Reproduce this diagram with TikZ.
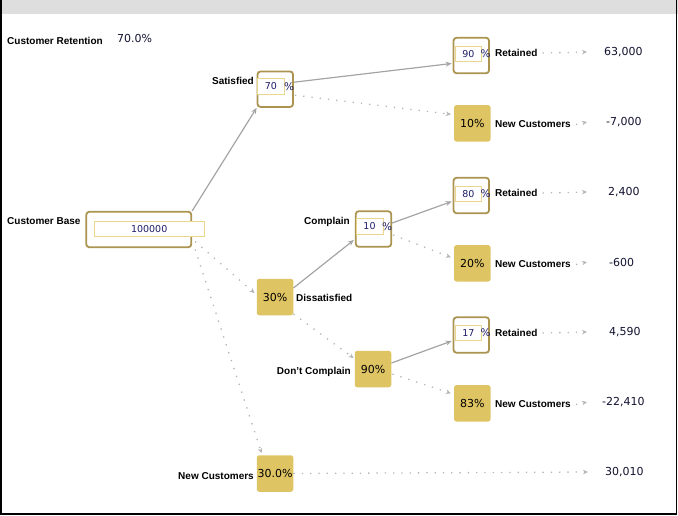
\documentclass[tikz,border=0pt]{standalone}
\usepackage{fontspec}
\setmainfont{Liberation Sans}
\newfontfamily\valfont{DejaVu Sans}
\usetikzlibrary{arrows.meta,calc}
\definecolor{goldline}{HTML}{AA9450}
\definecolor{goldfill}{HTML}{DFC463}
\definecolor{inborder}{HTML}{EAD68C}
\definecolor{linegray}{HTML}{A4A4A4}
\definecolor{dotgray}{HTML}{B4B4B4}
\definecolor{valcol}{HTML}{101030}
\definecolor{numcol}{HTML}{1C1C66}
\definecolor{barcol}{HTML}{DEDEDE}
\tikzset{
  outbox/.style={draw=goldline, line width=1.8pt, rounded corners=3pt, fill=white, minimum width=35.5pt, minimum height=35.5pt, inner sep=0pt},
  fillbox/.style={fill=goldfill, rounded corners=2.5pt, minimum width=36.5pt, minimum height=36.5pt, inner sep=0pt, font=\valfont\fontsize{11}{12}\selectfont, text=black},
  inbox/.style={draw=inborder, line width=0.9pt, fill=white, minimum width=26pt, minimum height=15pt, inner sep=0pt, font=\valfont\fontsize{9.5}{10}\selectfont, text=numcol},
  pct/.style={font=\valfont\fontsize{10.5}{11}\selectfont, text=numcol, inner sep=0pt},
  lbl/.style={font=\bfseries\fontsize{10}{11}\selectfont, inner sep=0pt, text=black},
  val/.style={font=\valfont\fontsize{11}{12}\selectfont, inner sep=0pt, text=valcol},
  solidcon/.style={draw=linegray, line width=1.2pt, -{Stealth[length=6pt,width=5pt]}},
  dotcon/.style={draw=dotgray, line width=1.3pt, dash pattern=on 1.3pt off 7pt, -{Stealth[length=5pt,width=4.5pt]}}
}
\begin{document}
\begin{tikzpicture}[x=1pt,y=-1pt]
\useasboundingbox (0,0) rectangle (678,515);
% frame
\fill[barcol] (0,0) rectangle (678,13.5);
\draw[black, line width=1.5pt] (0.75,0) -- (0.75,514) -- (676.25,514) -- (676.25,0);

% header
\node[lbl, anchor=west] (crl) at (7,41) {Customer Retention};
\node[val, anchor=west] (crv) at (117,38) {70.0\%};

% customer base
\node[lbl, anchor=west] (cbl) at (7,221) {Customer Base};
\node[outbox, minimum width=105pt, minimum height=35.5pt] (cb) at (138.8,229.5) {};
\node[inbox, minimum width=110pt, minimum height=14.5pt] (cbi) at (149.2,228.8) {100000};

% satisfied
\node[lbl, anchor=east] (satl) at (254,81) {Satisfied};
\node[outbox] (sat) at (275.3,89.2) {};
\node[inbox, minimum width=27pt, minimum height=16pt] (sati) at (270.8,86.3) {70};
\node[pct] (satp) at (289,86.5) {\%};

% retained 1
\node[outbox] (r1) at (471.3,55.5) {};
\node[inbox] (r1i) at (468.3,53.8) {90};
\node[pct] (r1p) at (485.7,53.5) {\%};
\node[lbl, anchor=west] (r1l) at (495,53) {Retained};
\node[val, anchor=west] (r1v) at (604,52) {63,000};

% new customers 1
\node[fillbox] (n1) at (472.3,123.3) {10\%};
\node[lbl, anchor=west] (n1l) at (495,124.5) {New Customers};
\node[val, anchor=west] (n1v) at (606,122) {-7,000};

% dissatisfied
\node[fillbox] (dis) at (275,297) {30\%};
\node[lbl, anchor=west] (disl) at (296,297.5) {Dissatisfied};

% complain
\node[lbl, anchor=east] (coml) at (350,222) {Complain};
\node[outbox] (com) at (373.5,229) {};
\node[inbox, minimum width=27pt, minimum height=16pt] (comi) at (369.5,226.5) {10};
\node[pct] (comp) at (387,226.5) {\%};

% retained 2
\node[outbox] (r2) at (471.3,195.5) {};
\node[inbox] (r2i) at (468.3,193.8) {80};
\node[pct] (r2p) at (485.7,193.5) {\%};
\node[lbl, anchor=west] (r2l) at (495,193) {Retained};
\node[val, anchor=west] (r2v) at (608,192) {2,400};

% new customers 2
\node[fillbox] (n2) at (472.3,263.3) {20\%};
\node[lbl, anchor=west] (n2l) at (495,264.5) {New Customers};
\node[val, anchor=west] (n2v) at (609,262) {-600};

% don't complain
\node[lbl, anchor=east] (dcl) at (351,372) {Don't Complain};
\node[fillbox] (dc) at (373,369) {90\%};

% retained 3
\node[outbox] (r3) at (471.3,335) {};
\node[inbox] (r3i) at (468.3,333.3) {17};
\node[pct] (r3p) at (485.7,333) {\%};
\node[lbl, anchor=west] (r3l) at (495,333) {Retained};
\node[val, anchor=west] (r3v) at (609,332) {4,590};

% new customers 3
\node[fillbox] (n3) at (472.3,403.3) {83\%};
\node[lbl, anchor=west] (n3l) at (495,404.5) {New Customers};
\node[val, anchor=west] (n3v) at (602,402) {-22,410};

% new customers bottom
\node[lbl, anchor=east] (nbl) at (254,476) {New Customers};
\node[fillbox] (nb) at (275,473.5) {30.0\%};
\node[val, anchor=west] (nbv) at (605,472) {30,010};

% connectors
\draw[solidcon] (cb.north east) -- (sat.south west);
\draw[dotcon] ($(cb.east)+(3,12)$) -- ($(dis.west)+(-2,-4)$);
\draw[dotcon] ($(cb.east)+(3,20)$) -- ($(nb.north west)+(5,-2)$);

\draw[solidcon] ($(sat.east)+(0,-7)$) -- ($(r1.west)+(-1,8)$);
\draw[dotcon] ($(sat.east)+(1,6)$) -- ($(n1.west)+(-3,-9)$);

\draw[solidcon] ($(dis.east)+(0,-9)$) -- ($(com.west)+(-1,11)$);
\draw[dotcon] ($(dis.east)+(0,17)$) -- ($(dc.west)+(-1,-11)$);

\draw[solidcon] ($(com.east)+(0,-6)$) -- ($(r2.west)+(-1,6)$);
\draw[dotcon] ($(com.east)+(1,6)$) -- ($(n2.west)+(-3,-6)$);

\draw[solidcon] ($(dc.east)+(0,-6)$) -- ($(r3.west)+(-1,6)$);
\draw[dotcon] ($(dc.east)+(1,5)$) -- ($(n3.west)+(-3,-10)$);

\draw[dotcon] ($(r1l.east)+(5,0)$) -- ($(r1v.west)+(-17,0)$);
\draw[dotcon] ($(n1l.east)+(5,0)$) -- ($(n1v.west)+(-19,0)$);
\draw[dotcon] ($(r2l.east)+(5,0)$) -- ($(r2v.west)+(-21,0)$);
\draw[dotcon] ($(n2l.east)+(5,0)$) -- ($(n2v.west)+(-22,0)$);
\draw[dotcon] ($(r3l.east)+(5,0)$) -- ($(r3v.west)+(-22,0)$);
\draw[dotcon] ($(n3l.east)+(5,0)$) -- ($(n3v.west)+(-15,0)$);
\draw[dotcon] (nb.east) -- ($(nbv.west)+(-17,0)$);
\end{tikzpicture}
\end{document}
